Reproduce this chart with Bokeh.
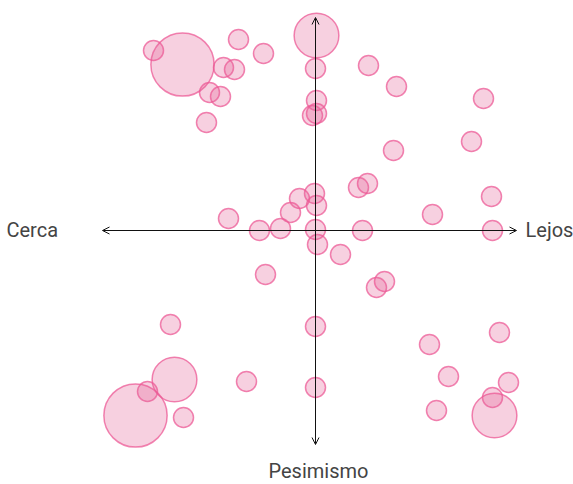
import numpy as np
from bokeh.plotting import figure
from bokeh.models import ColumnDataSource, Arrow, OpenHead
from bokeh.core.properties import value
from bokeh.embed import file_html
from bokeh.resources import INLINE

# Distance (Cerca < 0 < Lejos) and outlook (Pesimismo < 0 < Optimismo)
distance = [0.05, -6.65, -8.1, -3.85, -2.6, -4.6, -4.05, 0.0, 2.65, 4.05,
            -5.3, -4.75, 0.05, -0.15, 0.05, 8.4, -5.45, 7.8, 3.9, 2.15,
            2.6, -0.05, -0.8, 0.05, -1.25, -4.35, 5.85, 8.8, -2.8, -1.75,
            0.0, 2.35, 8.85, 0.1, 1.25, -2.5, 3.05, 3.45, -7.25, 0.0,
            9.2, 5.7, -7.05, -3.45, 6.65, 9.65, -8.4, 0.0, -9.0, -6.6,
            8.85, 8.95, 6.05]
outlook = [9.75, 8.3, 9.0, 9.55, 8.85, 8.15, 8.05, 8.1, 8.25, 7.2,
           6.9, 6.7, 6.5, 5.75, 5.85, 6.6, 5.4, 4.45, 4.0, 2.15,
           2.35, 1.85, 1.6, 1.25, 0.9, 0.6, 0.8, 1.7, 0.0, 0.1,
           0.05, 0.0, 0.0, -0.7, -1.2, -2.2, -2.85, -2.55, -4.7, -4.8,
           -5.1, -5.7, -7.45, -7.55, -7.3, -7.6, -8.05, -7.85, -9.25, -9.35,
           -8.35, -9.25, -9.0]
weight = [5, 10, 1, 1, 1, 1, 1, 1, 1, 1,
          1, 1, 1, 1, 1, 1, 1, 1, 1, 1,
          1, 1, 1, 1, 1, 1, 1, 1, 1, 1,
          1, 1, 1, 1, 1, 1, 1, 1, 1, 1,
          1, 1, 5, 1, 1, 1, 1, 1, 10, 1,
          1, 5, 1]
axis_labels = ["Cerca", "Lejos", "Pesimismo"]

src = ColumnDataSource(dict(x=distance, y=outlook,
                            size=list(20 * np.sqrt(np.array(weight, dtype=float)))))

p = figure(width=573, height=484, output_backend="svg", toolbar_location=None,
           x_range=(-15.75, 12.9), y_range=(-12.7, 11.5), min_border=0)
p.axis.visible = False
p.grid.visible = False
p.outline_line_color = None
p.background_fill_color = "white"

head_kw = dict(size=7, line_width=1, line_color="#111111")
p.add_layout(Arrow(start=OpenHead(**head_kw), end=OpenHead(**head_kw),
                   x_start=-10.65, y_start=0, x_end=10.05, y_end=0,
                   line_width=1, line_color="#111111"))
p.add_layout(Arrow(start=OpenHead(**head_kw), end=OpenHead(**head_kw),
                   x_start=0, y_start=-10.7, x_end=0, y_end=10.65,
                   line_width=1, line_color="#111111"))

p.scatter("x", "y", size="size", source=src, marker="circle",
          fill_color="#e46298", fill_alpha=0.3,
          line_color="#ec5a96", line_alpha=0.75, line_width=1.5)

font = value("Roboto")
p.text(x=[-15.45], y=[0.05], text=[axis_labels[0]], text_font=font,
       text_font_size="20px", text_color="#444444", text_align="left",
       text_baseline="alphabetic")
p.text(x=[10.5], y=[0.05], text=[axis_labels[1]], text_font=font,
       text_font_size="20px", text_color="#444444", text_align="left",
       text_baseline="alphabetic")
p.text(x=[0.15], y=[-12.0], text=[axis_labels[2]], text_font=font,
       text_font_size="20px", text_color="#444444", text_align="center",
       text_baseline="alphabetic")

open("out.html", "w").write(file_html(p, INLINE))
